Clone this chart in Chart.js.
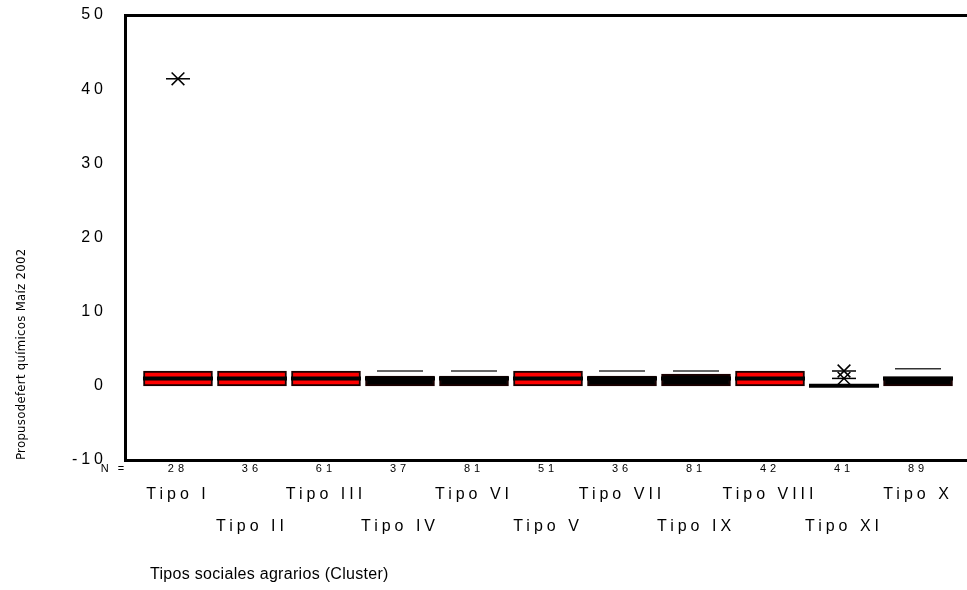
<!DOCTYPE html>
<html>
<head>
<meta charset="utf-8">
<script src="https://cdn.jsdelivr.net/npm/chart.js@4/dist/chart.umd.min.js"></script>
<style>
  body { margin: 0; background: #fff; }
  canvas { display: block; }
</style>
</head>
<body>
<canvas id="boxCanvas" width="967" height="590"></canvas>
<script>
// datos (orden de las cajas de izquierda a derecha)
var tipos = ['Tipo I', 'Tipo II', 'Tipo III', 'Tipo IV', 'Tipo VI', 'Tipo V', 'Tipo VII', 'Tipo IX', 'Tipo VIII', 'Tipo XI', 'Tipo X'];
var nCasos = [28, 36, 61, 37, 81, 51, 36, 81, 42, 41, 89];
var cuartil1 = [0, 0, 0, 0, 0, 0, 0, 0, 0, 0, 0];
var cuartil3 = [2, 2, 2, 1.3, 1.3, 2, 1.3, 1.6, 2, 0, 1.2];
var mediana = [1, 1, 1, 1, 1, 1, 1, 1, 1, 0, 1];
var bigoteSup = [null, null, null, 2, 2, null, 2, 2, null, null, 2.3];
var extremoTipo = [1, 10, 10];
var extremoValor = [41.4, 2, 1];
var yTicks = [-10, 0, 10, 20, 30, 40, 50];

var fuente = '"Liberation Sans", Arial, sans-serif';
var cajaRoja = [true, true, true, false, false, true, false, false, true, false, false];

var cajas = tipos.map(function (t, i) { return {x: i + 1, y: [cuartil1[i], cuartil3[i]]}; });
var medianas = tipos.map(function (t, i) { return {x: i + 1, y: mediana[i]}; });
var bigotes = [];
bigoteSup.forEach(function (v, i) { if (v !== null) bigotes.push({x: i + 1, y: v}); });
var extremos = extremoTipo.map(function (t, i) { return {x: t, y: extremoValor[i]}; });

function ticksTipos(scale) {
    scale.ticks = tipos.map(function (t, i) { return {value: i + 1}; });
}

var sinRejilla = {display: false, drawTicks: false, offset: false};

var espaciado = {
    id: 'espaciado',
    beforeDraw: function (chart) { chart.ctx.letterSpacing = '4px'; },
    afterDatasetsDraw: function (chart) { chart.ctx.letterSpacing = '0.3px'; },
    afterLayout: function (chart) { chart.scales.xt.left += 25; },
    afterDraw: function (chart) {
        var ctx = chart.ctx;
        ctx.save();
        ctx.letterSpacing = '3px';
        ctx.font = '11px ' + fuente;
        ctx.fillStyle = '#000';
        ctx.textAlign = 'center';
        ctx.textBaseline = 'middle';
        ctx.fillText('N =', 114, chart.scales.x.top + 8.6);
        ctx.restore();
    }
};

var ctx = document.getElementById('boxCanvas').getContext('2d');
var chart = new Chart(ctx, {
    type: 'bar',
    data: {
        datasets: [
            {
                type: 'scatter', order: 0, data: extremos,
                pointStyle: 'line', pointRadius: 12, pointBorderWidth: 1.5,
                borderColor: '#000', backgroundColor: '#000'
            },
            {
                type: 'scatter', order: 0, data: extremos,
                pointStyle: 'crossRot', pointRadius: 9, pointBorderWidth: 1.5,
                borderColor: '#000', backgroundColor: '#000'
            },
            {
                type: 'scatter', order: 1, data: bigotes,
                pointStyle: 'line', pointRadius: 23, pointBorderWidth: 1.5,
                borderColor: '#333', backgroundColor: '#333'
            },
            {
                type: 'scatter', order: 1, data: medianas,
                pointStyle: 'line', pointRadius: 35, pointBorderWidth: 4,
                borderColor: '#000', backgroundColor: '#000'
            },
            {
                type: 'bar', order: 2, data: cajas,
                barThickness: 69,
                borderSkipped: false,
                borderWidth: 2,
                borderColor: '#1a0000',
                backgroundColor: cajaRoja.map(function (r) { return r ? '#ff0000' : '#000'; })
            }
        ]
    },
    options: {
        responsive: false,
        devicePixelRatio: 1,
        animation: false,
        layout: {padding: 0, autoPadding: false},
        plugins: {legend: {display: false}, tooltip: {enabled: false}},
        scales: {
            x: {
                type: 'linear', position: 'bottom', weight: 1, offset: false,
                min: 0.284, max: 11.662,
                afterBuildTicks: ticksTipos,
                afterFit: function (s) { s.height = 16; },
                grid: sinRejilla,
                border: {color: '#000', width: 3},
                ticks: {
                    autoSkip: false, maxRotation: 0, minRotation: 0, padding: 2,
                    color: '#000', font: {family: fuente, size: 11},
                    callback: function (v, i) { return String(nCasos[i]); }
                }
            },
            xc: {
                type: 'linear', position: 'bottom', weight: 2, offset: false,
                min: 0.284, max: 11.662,
                afterBuildTicks: ticksTipos,
                afterFit: function (s) { s.height = 67; },
                grid: sinRejilla,
                border: {display: false},
                ticks: {
                    autoSkip: false, maxRotation: 0, minRotation: 0, padding: 3,
                    color: '#000', font: {family: fuente, size: 16, lineHeight: 2},
                    callback: function (v, i) { return i % 2 === 0 ? tipos[i] : ['', tipos[i]]; }
                }
            },
            xt: {
                type: 'linear', position: 'bottom', weight: 3, offset: false,
                afterFit: function (s) { s.height = 47; },
                grid: {display: false, drawTicks: false, offset: false, z: 1},
                border: {display: false},
                ticks: {display: false},
                title: {
                    display: true, align: 'start', color: '#000',
                    text: 'Tipos sociales agrarios (Cluster)',
                    font: {family: fuente, size: 16},
                    padding: {top: 0, bottom: 6}
                }
            },
            xtop: {
                type: 'linear', position: 'top', offset: false,
                afterFit: function (s) { s.height = 15; },
                grid: sinRejilla,
                border: {color: '#000', width: 3},
                ticks: {display: false}
            },
            y: {
                type: 'linear', position: 'left',
                min: -10, max: 50,
                afterBuildTicks: function (s) { s.ticks = yTicks.map(function (v) { return {value: v}; }); },
                afterFit: function (s) { s.width = 80; s.paddingTop = 10; s.paddingBottom = 10; },
                grid: sinRejilla,
                border: {color: '#000', width: 3},
                ticks: {padding: 18, color: '#000', font: {family: fuente, size: 16}}
            },
            yt: {
                type: 'linear', position: 'left', weight: 10,
                afterFit: function (s) { s.width = 45; },
                grid: {display: false, drawTicks: false, z: 1},
                border: {display: false},
                ticks: {display: false},
                title: {
                    display: true, align: 'start', color: '#000',
                    text: 'Propusodefert químicos Maíz 2002',
                    font: {family: '"DejaVu Sans Condensed", "Liberation Sans Narrow", sans-serif', size: 13},
                    padding: {top: 14, bottom: 0}
                }
            }
        }
    },
    plugins: [espaciado]
});
</script>
</body>
</html>
